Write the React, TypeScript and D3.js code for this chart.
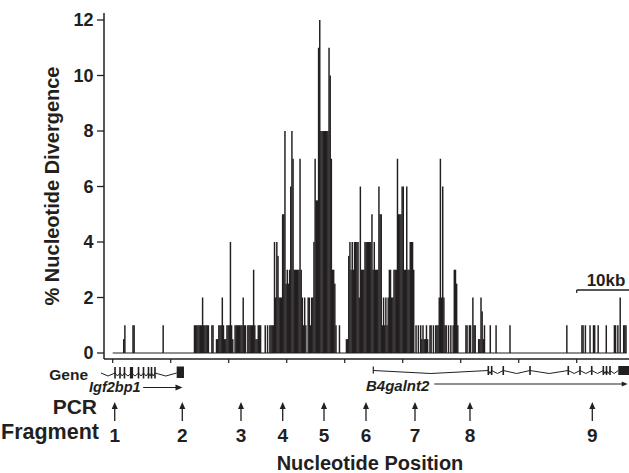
import React from 'react';
import * as d3 from 'd3';

// % nucleotide divergence in 0.2 kb windows, grouped per 10 kb
const BIN_KB = 0.2;
const seg0 = [0,0,0,0,0,0,0,0,0,0.5, 1,0,0,0,0,0,0,1,1,0, 0,0,0,0,0,0,0,0,0,0, 0,0,0,0,0,0,0,0,0,0, 0,0,0,1,0,0,0,0,0,0];
const seg1 = [0,0,0,0,0,0,0,0,0,0, 0,0,0,0,0,0,0,0,0,0, 1,1,1,1,1,1,1,2,1,1, 1,1,1,0,0,1,1,0,0,0.5, 0.5,1,1,1,2,1,0.5,0.5,1,1];
const seg2 = [1,4,1,0.5,0,1,1,1,1,1, 1,1,2,1,1,0,1,1,1,1, 1,3,1,0.5,0.5,1,1,1,0,0, 0,1,0,1,0,1,1,1,1,4, 2,4,3.5,2,2,2,5,5,8,2.5];
const seg3 = [3,2.5,3,6,8,7,3,3,3,3, 3,7,3,2,1,2,1,0,2,2, 1,2,2,4,7,5.5,5.5,11,12,8, 8,8,8,8,8,8,11,10,7,3, 3,2.5,1,0,0,1,0,0,0,0];
const seg4 = [0,0.5,0.5,3.5,4,3,4,3,4,4, 4,4,2,6,3,3,3,4,4,4, 4,4,4,5,3,4,3,3,3,6, 5,5,1,2,1,2,1,2,3,3, 2,2,3,3,3,7,5,5,5,6];
const seg5 = [6,3,3,6,3,3,4,4,4,3, 0,1,0,1,0,1,0.5,1,0.5,0.5, 1,0.5,0,1,1,0,1,0,1,1, 1,2,7,2,6,2,1,1,0,1, 0,1,0,1,3,3,2.5,1,0,0];
const seg6 = [0,0,0,0,1,1,0,1,1,0, 2,1,1,0,0,0.5,0.5,2,1.5,0.5, 1,0,0,0,0,1,0,0,0,0, 1,0,0,0,0,0,0,0,0,0, 0,0,1,0,0,0,0,0,0,0];
const seg7 = [0,0,0,0,0,0,0,0,0,0, 0,0,0,0,0,0,0,0,0,0, 0,0,0,0,0,0,0,0,0,0, 0,0,0,0,0,0,0,0,0,0, 0,1,0,0,0,0,0,0,0,0];
const seg8 = [0,0,0,0,1,1,0,1,0,0, 0,1,0,0,1,1,0,0,1,0, 0,0,0,0,0,1,0,0,0,0, 0,0,1,1,0,1,0,2,0,0, 1,1,1];
const divergence = [...seg0, ...seg1, ...seg2, ...seg3, ...seg4, ...seg5, ...seg6, ...seg7, ...seg8];

const yTicks = [0, 2, 4, 6, 8, 10, 12];
const xTicksKb = [0, 10, 20, 30, 40, 50, 60, 70, 80];

const pcrLabels = ['1', '2', '3', '4', '5', '6', '7', '8', '9'];
const pcrKb = [0.35, 12.0, 22.12, 29.31, 36.43, 43.67, 52.12, 61.6, 82.69];

// gene models (kb)
const igfStartKb = -2.02;
const igfExonsKb = [0.4, 1.26, 2.03, 3.24, 4.45, 5.31, 6.17, 6.69, 7.29];
const igfExonW = [1.6, 1.6, 1.6, 3.2, 1.6, 1.6, 1.6, 1.6, 1.6];
const igfBlockKb = [11.03, 12.29];
const igfArrowKb = [5.24, 12.03];

const b4StartKb = 44.93;
const b4ExonsKb = [64.76, 65.34, 67.34, 71.95, 78.55, 80.57, 82.59, 84.59, 85.14, 85.74];
const b4BlockKb = [87.17, 89.3];
const b4ArrowKb = [55.45, 88.8];

const scaleBarKb = [80, 90];

const INK = '#231f20';
const FONT = '"Liberation Sans", Arial, Helvetica, sans-serif';

function intronPath(xs: number[], yc: number, dip: number) {
  let d = `M${xs[0]},${yc}`;
  for (let i = 1; i < xs.length; i++) {
    const a = xs[i - 1], b = xs[i];
    d += ` L${(a + b) / 2},${yc + dip} L${b},${yc}`;
  }
  return d;
}

export default function App() {
  const W = 629, H = 473;
  const x = d3.scaleLinear().domain([0, 90]).range([112.7, 634.7]);
  const y = d3.scaleLinear().domain([0, 12]).range([353, 20]);
  const bw = x(BIN_KB) - x(0);
  const dataEnd = divergence.length * BIN_KB;

  const axisX = 104;
  const axisY = 359;

  const igfYc = 373;
  const igfPts = [x(igfStartKb), ...igfExonsKb.map((k) => x(k)), x(igfBlockKb[0])];
  const b4Yc = 370.5;
  const b4Pts = [x(b4StartKb), ...b4ExonsKb.map((k) => x(k)), x(b4BlockKb[0])];

  return (
    <svg width={W} height={H} style={{ position: 'absolute', left: 0, top: 0, background: '#fff' }}
      fontFamily={FONT} fontWeight="bold" fill={INK}>
      <rect x={0} y={0} width={W} height={H} fill="#fff" />
      {/* bars */}
      <line x1={x(0)} x2={x(dataEnd)} y1={y(0)} y2={y(0)} stroke={INK} strokeWidth={1.2} />
      {divergence.map((v, i) => v > 0 ? (
        <rect key={i} x={x(i * BIN_KB) - 0.15} width={bw + 0.3} y={y(v)} height={y(0) - y(v)} fill={INK} />
      ) : null)}

      {/* y axis */}
      <line x1={axisX} x2={axisX} y1={13} y2={axisY} stroke={INK} strokeWidth={1.5} />
      {yTicks.map((t) => (
        <g key={t}>
          <line x1={axisX - 7} x2={axisX} y1={y(t)} y2={y(t)} stroke={INK} strokeWidth={1.3} />
          <text x={93.5} y={y(t)} dy="0.36em" textAnchor="end" fontSize={18}>{t}</text>
        </g>
      ))}
      <text transform={`translate(58.5,186) rotate(-90)`} textAnchor="middle" fontSize={20}>% Nucleotide Divergence</text>

      {/* x axis */}
      <line x1={axisX} x2={W} y1={axisY} y2={axisY} stroke={INK} strokeWidth={1.5} />
      {xTicksKb.map((t) => (
        <line key={t} x1={x(t)} x2={x(t)} y1={axisY} y2={axisY + 4} stroke={INK} strokeWidth={1.2} />
      ))}

      {/* scale bar */}
      <line x1={x(scaleBarKb[0])} x2={x(scaleBarKb[1])} y1={290} y2={290} stroke={INK} strokeWidth={1.3} />
      <line x1={x(scaleBarKb[0])} x2={x(scaleBarKb[0])} y1={290} y2={293} stroke={INK} strokeWidth={1.2} />
      <text x={606} y={286} textAnchor="middle" fontSize={17}>10kb</text>

      {/* gene row */}
      <text x={88} y={380} textAnchor="end" fontSize={15.5}>Gene</text>
      <path d={intronPath(igfPts, igfYc, 3)} fill="none" stroke={INK} strokeWidth={1} />
      {igfExonsKb.map((k, i) => (
        <rect key={i} x={x(k) - igfExonW[i] / 2} width={igfExonW[i]} y={igfYc - 6} height={11.5} fill={INK} />
      ))}
      <rect x={x(igfBlockKb[0])} width={x(igfBlockKb[1]) - x(igfBlockKb[0])} y={igfYc - 6.5} height={11.5} fill={INK} />
      <text x={89} y={392} fontSize={14.5} fontStyle="italic">Igf2bp1</text>
      <line x1={x(igfArrowKb[0])} x2={x(igfArrowKb[1]) - 5} y1={387.5} y2={387.5} stroke={INK} strokeWidth={1.2} />
      <path d={`M${x(igfArrowKb[1])},387.5 L${x(igfArrowKb[1]) - 7},384.5 L${x(igfArrowKb[1]) - 7},390.5 Z`} fill={INK} />

      <path d={intronPath(b4Pts, b4Yc, 3)} fill="none" stroke={INK} strokeWidth={1} />
      <line x1={x(b4StartKb)} x2={x(b4StartKb)} y1={b4Yc - 4} y2={b4Yc + 3} stroke={INK} strokeWidth={1.2} />
      {b4ExonsKb.map((k, i) => (
        <rect key={i} x={x(k) - 0.8} width={1.6} y={b4Yc - 4.5} height={9} fill={INK} />
      ))}
      <rect x={x(b4BlockKb[0])} width={x(b4BlockKb[1]) - x(b4BlockKb[0])} y={b4Yc - 4.5} height={9} fill={INK} />
      <text x={366} y={391} fontSize={15} fontStyle="italic">B4galnt2</text>
      <line x1={x(b4ArrowKb[0])} x2={x(b4ArrowKb[1]) - 4} y1={384} y2={384} stroke={INK} strokeWidth={1.2} />
      <path d={`M${x(b4ArrowKb[1])},384 L${x(b4ArrowKb[1]) - 6},381.5 L${x(b4ArrowKb[1]) - 6},386.5 Z`} fill={INK} />

      {/* PCR fragments */}
      <text x={97} y={413.5} textAnchor="end" fontSize={21}>PCR</text>
      <text x={99} y={438.5} textAnchor="end" fontSize={21.5}>Fragment</text>
      {pcrKb.map((k, i) => (
        <g key={i}>
          <line x1={x(k)} x2={x(k)} y1={407} y2={421} stroke={INK} strokeWidth={1.3} />
          <path d={`M${x(k)},402 L${x(k) - 3},409 L${x(k) + 3},409 Z`} fill={INK} />
          <text x={x(k)} y={442} textAnchor="middle" fontSize={19}>{pcrLabels[i]}</text>
        </g>
      ))}

      <text x={370} y={470} textAnchor="middle" fontSize={20}>Nucleotide Position</text>
    </svg>
  );
}
